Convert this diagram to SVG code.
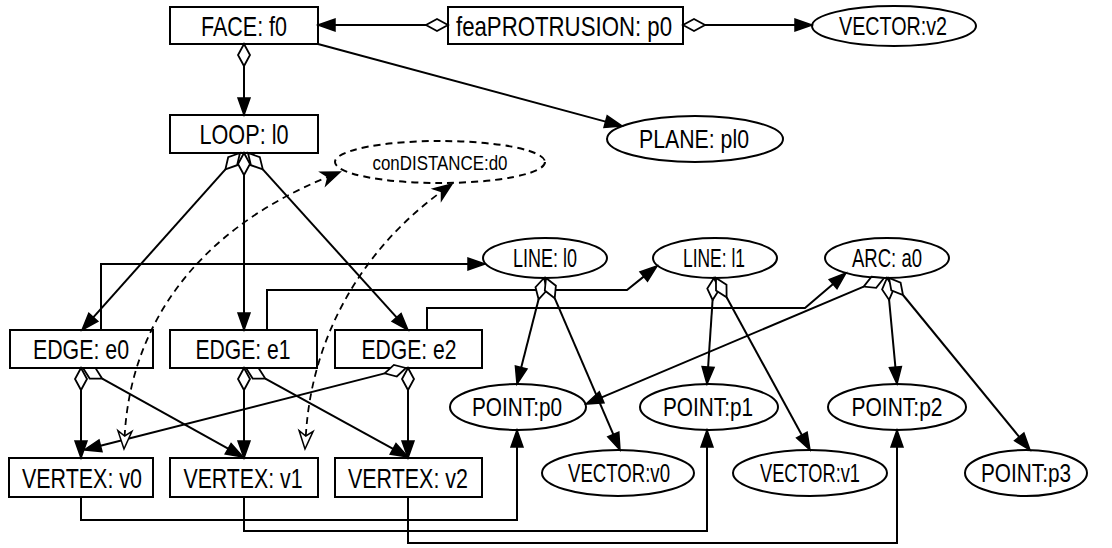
<svg xmlns="http://www.w3.org/2000/svg" width="1112" height="548" viewBox="0 0 1112 548">
<style>
.n{fill:#fff;stroke:#000;stroke-width:2}
.d{fill:#fff;stroke:#000;stroke-width:2;stroke-dasharray:7,5}
.t{font-family:"Liberation Sans Narrow","Liberation Sans",Arial,sans-serif;font-size:28px;text-anchor:middle;fill:#000}
.te{font-family:"Liberation Sans Narrow","Liberation Sans",Arial,sans-serif;font-size:26px;text-anchor:middle;fill:#000}
.ts{font-family:"Liberation Sans Narrow","Liberation Sans",Arial,sans-serif;font-size:21px;text-anchor:middle;fill:#000}
.l{fill:none;stroke:#000;stroke-width:2}
.ld{fill:none;stroke:#000;stroke-width:1.8;stroke-dasharray:7,5}
.a{fill:#000;stroke:#000;stroke-width:1.5;stroke-linejoin:miter}
.dm{fill:#fff;stroke:#000;stroke-width:1.8}
.ov{fill:#fff;stroke:#000;stroke-width:1.5}
</style>
<rect width="1112" height="548" fill="#fff"/>
<g id="face"><rect class="n" x="170" y="7" width="148" height="37"/><text class="t" x="244" y="35.5" textLength="86" lengthAdjust="spacingAndGlyphs">FACE: f0</text></g>
<g id="feaprotrusion"><rect class="n" x="448" y="7" width="235" height="37"/><text class="t" x="564" y="35.5" textLength="216" lengthAdjust="spacingAndGlyphs">feaPROTRUSION: p0</text></g>
<g id="vector-v2"><ellipse class="n" cx="894" cy="26" rx="82" ry="20"/><text class="te" x="893" y="34.5" textLength="108" lengthAdjust="spacingAndGlyphs">VECTOR:v2</text></g>
<g id="plane"><ellipse class="n" cx="695" cy="139" rx="88" ry="23"/><text class="te" x="694" y="148" textLength="110" lengthAdjust="spacingAndGlyphs">PLANE: pl0</text></g>
<g id="loop"><rect class="n" x="170" y="115" width="148" height="38"/><text class="t" x="244" y="144" textLength="89" lengthAdjust="spacingAndGlyphs">LOOP: l0</text></g>
<g id="condistance"><ellipse class="d" cx="440" cy="162" rx="105" ry="21"/><text class="ts" x="440" y="169.5" textLength="135" lengthAdjust="spacingAndGlyphs">conDISTANCE:d0</text></g>
<g id="edge-e0"><rect class="n" x="10" y="330" width="143" height="38"/><text class="t" x="81" y="359" textLength="96" lengthAdjust="spacingAndGlyphs">EDGE: e0</text></g>
<g id="edge-e1"><rect class="n" x="170" y="330" width="147" height="38"/><text class="t" x="243" y="359" textLength="95" lengthAdjust="spacingAndGlyphs">EDGE: e1</text></g>
<g id="edge-e2"><rect class="n" x="335" y="330" width="147" height="38"/><text class="t" x="409" y="359" textLength="95" lengthAdjust="spacingAndGlyphs">EDGE: e2</text></g>
<g id="vertex-v0"><rect class="n" x="9" y="458" width="144" height="39"/><text class="t" x="82" y="487.5" textLength="120" lengthAdjust="spacingAndGlyphs">VERTEX: v0</text></g>
<g id="vertex-v1"><rect class="n" x="170" y="458" width="148" height="39"/><text class="t" x="243" y="487.5" textLength="119" lengthAdjust="spacingAndGlyphs">VERTEX: v1</text></g>
<g id="vertex-v2"><rect class="n" x="335" y="458" width="147" height="39"/><text class="t" x="408" y="487.5" textLength="120" lengthAdjust="spacingAndGlyphs">VERTEX: v2</text></g>
<g id="line-l0"><ellipse class="n" cx="545" cy="258" rx="62" ry="20"/><text class="te" x="545" y="267" textLength="64" lengthAdjust="spacingAndGlyphs">LINE: l0</text></g>
<g id="line-l1"><ellipse class="n" cx="715" cy="258" rx="62" ry="20"/><text class="te" x="714" y="267" textLength="62" lengthAdjust="spacingAndGlyphs">LINE: l1</text></g>
<g id="arc-a0"><ellipse class="n" cx="887" cy="258" rx="62" ry="20"/><text class="te" x="887" y="267" textLength="70" lengthAdjust="spacingAndGlyphs">ARC: a0</text></g>
<g id="point-p0"><ellipse class="n" cx="518" cy="407" rx="68" ry="23"/><text class="te" x="517" y="416" textLength="90" lengthAdjust="spacingAndGlyphs">POINT:p0</text></g>
<g id="point-p1"><ellipse class="n" cx="709" cy="407" rx="69" ry="23"/><text class="te" x="708" y="416" textLength="90" lengthAdjust="spacingAndGlyphs">POINT:p1</text></g>
<g id="point-p2"><ellipse class="n" cx="897" cy="407" rx="69" ry="23"/><text class="te" x="897" y="416" textLength="91" lengthAdjust="spacingAndGlyphs">POINT:p2</text></g>
<g id="point-p3"><ellipse class="n" cx="1026" cy="473" rx="61" ry="23"/><text class="te" x="1026" y="482" textLength="90" lengthAdjust="spacingAndGlyphs">POINT:p3</text></g>
<g id="vector-v0"><ellipse class="n" cx="618" cy="473" rx="76" ry="23"/><text class="te" x="619" y="482" textLength="102" lengthAdjust="spacingAndGlyphs">VECTOR:v0</text></g>
<g id="vector-v1"><ellipse class="n" cx="810" cy="473" rx="77" ry="23"/><text class="te" x="810" y="482" textLength="100" lengthAdjust="spacingAndGlyphs">VECTOR:v1</text></g>
<g id="connectors">
<path class="l" d="M426,25 H335"/><polygon class="dm" points="448,25 437,19 426,25 437,31"/><polygon class="a" points="318,25 335,19 335,31"/>
<path class="l" d="M705,25 H795"/><polygon class="dm" points="683,25 694,31 705,25 694,19"/><polygon class="a" points="812,25 795,31 795,19"/>
<path class="l" d="M244,66 V98"/><polygon class="dm" points="244,44 238,55 244,66 250,55"/><polygon class="a" points="244,115 238,98 250,98"/>
<path class="l" d="M318,44 L605.6,121.6"/><polygon class="a" points="622,126 604,127.4 607.2,115.8"/>
<path class="l" d="M225.4,169.4 L93.3,317.3"/><polygon class="dm" points="240,153 228.2,157.2 225.4,169.4 237.1,165.2"/><polygon class="a" points="82,330 88.8,313.3 97.8,321.3"/>
<path class="l" d="M244,175 V313"/><polygon class="dm" points="244,153 238,164 244,175 250,164"/><polygon class="a" points="244,330 238,313 250,313"/>
<path class="l" d="M262.8,169.3 L396.6,317.4"/><polygon class="dm" points="248,153 250.9,165.2 262.8,169.3 259.8,157.1"/><polygon class="a" points="408,330 392.1,321.4 401.1,313.4"/>
<path class="l" d="M81,390 V441"/><polygon class="dm" points="81,368 75,379 81,390 87,379"/><polygon class="a" points="81,458 75,441 87,441"/>
<path class="l" d="M102.2,378.7 L228.1,448.7"/><polygon class="dm" points="83,368 89.7,378.6 102.2,378.7 95.5,368.1"/><polygon class="a" points="243,457 225.2,454 231.1,443.5"/>
<path class="l" d="M244,390 V441"/><polygon class="dm" points="244,368 238,379 244,390 250,379"/><polygon class="a" points="244,458 238,441 250,441"/>
<path class="l" d="M265.3,378.6 L393.1,448.8"/><polygon class="dm" points="246,368 252.7,378.6 265.3,378.6 258.5,368"/><polygon class="a" points="408,457 390.2,454.1 396,443.5"/>
<path class="l" d="M408,390 V441"/><polygon class="dm" points="408,368 402,379 408,390 414,379"/><polygon class="a" points="408,458 402,441 414,441"/>
<path class="l" d="M384.7,373.4 L100.5,445.8"/><polygon class="dm" points="406,368 393.9,364.9 384.7,373.4 396.8,376.5"/><polygon class="a" points="84,450 99,440 102,451.6"/>
<path class="l" d="M101,330 V264 H468"/><polygon class="a" points="485,264 468,258 468,270"/>
<path class="l" d="M267,330 V290 H627 L643.7,276.6"/><polygon class="a" points="657,266 647.5,281.3 640,271.9"/>
<path class="l" d="M427,330 V308 H805 L833.1,284"/><polygon class="a" points="846,273 837,288.6 829.2,279.5"/>
<path class="l" d="M538.6,299.3 L521.2,367.5"/><polygon class="dm" points="544,278 535.5,287.2 538.6,299.3 547.1,290.1"/><polygon class="a" points="517,384 515.4,366 527,369"/>
<path class="l" d="M554.7,298.2 L613.3,434.4"/><polygon class="dm" points="546,278 544.8,290.5 554.7,298.2 555.9,285.7"/><polygon class="a" points="620,450 607.8,436.8 618.8,432"/>
<path class="l" d="M712.6,300 L708.1,367"/><polygon class="dm" points="714,278 707.3,288.6 712.6,300 719.3,289.4"/><polygon class="a" points="707,384 702.1,366.6 714.1,367.4"/>
<path class="l" d="M726.6,297.3 L801.8,435.1"/><polygon class="dm" points="716,278 716,290.5 726.6,297.3 726.5,284.8"/><polygon class="a" points="810,450 796.6,438 807.1,432.2"/>
<path class="l" d="M863.7,286.6 L601.7,397.4"/><polygon class="dm" points="884,278 871.5,276.8 863.7,286.6 876.2,287.8"/><polygon class="a" points="586,404 599.3,391.8 604,402.9"/>
<path class="l" d="M889.1,299.9 L895.4,367.1"/><polygon class="dm" points="887,278 882.1,289.5 889.1,299.9 894,288.4"/><polygon class="a" points="897,384 889.4,367.6 901.4,366.5"/>
<path class="l" d="M903,295 L1019.2,436.9"/><polygon class="dm" points="889,278 891.3,290.3 903,295 900.6,282.7"/><polygon class="a" points="1030,450 1014.6,440.7 1023.9,433.1"/>
<path class="l" d="M81,497 V520 H517 V447"/><polygon class="a" points="517,430 511,447 523,447"/>
<path class="l" d="M244,497 V531 H707 V447"/><polygon class="a" points="707,430 701,447 713,447"/>
<path class="l" d="M408,497 V543 H897 V447"/><polygon class="a" points="897,430 891,447 903,447"/>
<path class="ld" d="M124.6,437 C130,330 192,232 328,176.9"/><polygon class="a" points="340,172 320.7,172.3 328,176.9 325.9,185.2"/><polygon class="ov" points="124,449 117.9,430.7 124.7,436 131.9,431.4"/>
<path class="ld" d="M305.8,436 C312,330 368,245 441.5,191.6"/><polygon class="a" points="452,184 433.3,188.9 441.5,191.6 441.5,200.2"/><polygon class="ov" points="305,449 299.1,430.6 305.8,436 313.1,431.4"/>
</g>
</svg>
